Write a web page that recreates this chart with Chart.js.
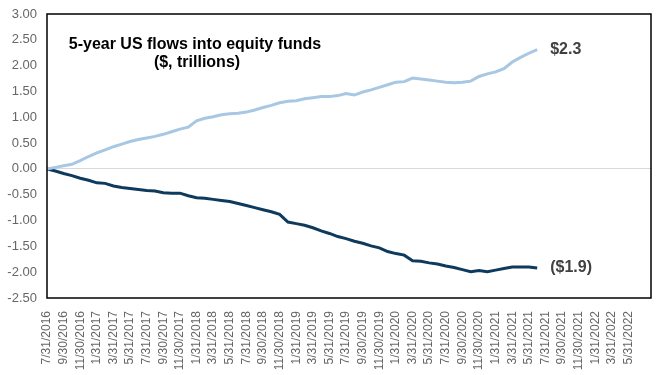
<!DOCTYPE html>
<html>
<head>
<meta charset="utf-8">
<script src="https://cdn.jsdelivr.net/npm/chart.js@4/dist/chart.umd.min.js"></script>
<style>
    body { margin: 0; background: #fff; }
    #wrap { width: 666px; height: 375px; position: relative; }
</style>
</head>
<body>
<div id="wrap"><canvas id="flowChart"></canvas></div>
<script>
// month index 0 = 7/31/2016, one value per month through 6/30/2021
const inflows = [
    0, 0.03, 0.06, 0.09, 0.16, 0.24, 0.31, 0.37, 0.43, 0.48,
    0.53, 0.57, 0.60, 0.63, 0.67, 0.72, 0.77, 0.81, 0.93, 0.98,
    1.01, 1.05, 1.07, 1.08, 1.10, 1.14, 1.19, 1.23, 1.28, 1.31,
    1.32, 1.36, 1.38, 1.40, 1.40, 1.42, 1.46, 1.43, 1.49, 1.53,
    1.58, 1.63, 1.68, 1.69, 1.76, 1.74, 1.72, 1.70, 1.68, 1.67,
    1.68, 1.70, 1.79, 1.84, 1.88, 1.94, 2.07, 2.16, 2.24, 2.31
];
const outflows = [
    0, -0.04, -0.09, -0.13, -0.18, -0.22, -0.27, -0.28, -0.33, -0.36,
    -0.38, -0.40, -0.42, -0.43, -0.46, -0.47, -0.47, -0.52, -0.56, -0.57,
    -0.59, -0.61, -0.63, -0.67, -0.71, -0.75, -0.79, -0.83, -0.88, -1.03,
    -1.06, -1.09, -1.14, -1.20, -1.25, -1.31, -1.35, -1.40, -1.44, -1.49,
    -1.53, -1.60, -1.64, -1.67, -1.78, -1.79, -1.82, -1.84, -1.88, -1.91,
    -1.95, -1.99, -1.97, -1.99, -1.96, -1.93, -1.90, -1.90, -1.90, -1.92
];
// one label every two months on the axis
const tickLabels = [
    "7/31/2016", "9/30/2016", "11/30/2016",
    "1/31/2017", "3/31/2017", "5/31/2017", "7/31/2017", "9/30/2017", "11/30/2017",
    "1/31/2018", "3/31/2018", "5/31/2018", "7/31/2018", "9/30/2018", "11/30/2018",
    "1/31/2019", "3/31/2019", "5/31/2019", "7/31/2019", "9/30/2019", "11/30/2019",
    "1/31/2020", "3/31/2020", "5/31/2020", "7/31/2020", "9/30/2020", "11/30/2020",
    "1/31/2021", "3/31/2021", "5/31/2021", "7/31/2021", "9/30/2021", "11/30/2021",
    "1/31/2022", "3/31/2022", "5/31/2022"
];
const endLabels = ["$2.3", "($1.9)"];
const titleLines = ["5-year US flows into equity funds", "($, trillions)"];

const font = "'Liberation Sans', Arial, sans-serif";

const overlay = {
    id: "overlay",
    afterDraw(chart) {
        const ctx = chart.ctx;
        const a = chart.chartArea;
        ctx.save();
        ctx.strokeStyle = "#000";
        ctx.lineWidth = 1.5;
        ctx.strokeRect(a.left, a.top, a.right - a.left, a.bottom - a.top);

        ctx.fillStyle = "#000";
        ctx.font = "bold 16px " + font;
        ctx.textAlign = "center";
        ctx.textBaseline = "alphabetic";
        ctx.fillText(titleLines[0], a.left + 148, a.top + 35);
        ctx.fillText(titleLines[1], a.left + 150, a.top + 53);

        ctx.fillStyle = "#404040";
        ctx.font = "bold 16px " + font;
        ctx.textAlign = "left";
        ctx.textBaseline = "middle";
        chart.data.datasets.forEach((ds, i) => {
            const pts = chart.getDatasetMeta(i).data;
            const last = pts[pts.length - 1];
            ctx.fillText(endLabels[i], last.x + 13, last.y);
        });
        ctx.restore();
    }
};

new Chart(document.getElementById("flowChart"), {
    type: "line",
    data: {
        datasets: [
            {
                label: "Inflows",
                data: inflows.map((v, i) => ({ x: i, y: v })),
                borderColor: "#a7c7e3",
                borderWidth: 3,
                pointRadius: 0,
                fill: false
            },
            {
                label: "Outflows",
                data: outflows.map((v, i) => ({ x: i, y: v })),
                borderColor: "#0d3a5d",
                borderWidth: 3,
                pointRadius: 0,
                fill: false
            }
        ]
    },
    options: {
        responsive: true,
        maintainAspectRatio: false,
        animation: false,
        layout: { padding: { top: 14, right: 15, left: 0, bottom: 0 } },
        plugins: { legend: { display: false }, tooltip: { enabled: false } },
        scales: {
            x: {
                type: "linear",
                min: 0,
                max: 72.7,
                grid: { display: false },
                border: { display: false },
                ticks: {
                    stepSize: 2,
                    autoSkip: false,
                    includeBounds: false,
                    minRotation: 90,
                    maxRotation: 90,
                    padding: 5,
                    color: "#666666",
                    font: { family: font, size: 12 },
                    callback: v => (v % 2 === 0 && tickLabels[v / 2]) ? tickLabels[v / 2] : ""
                },
                afterFit: s => {
                    s.height = 77;
                    s.paddingLeft = 0;
                    s.paddingRight = 0;
                }
            },
            y: {
                min: -2.5,
                max: 3,
                grid: {
                    drawTicks: false,
                    color: c => c.tick && c.tick.value === 0 ? "#d9d9d9" : "rgba(0,0,0,0)"
                },
                border: { display: false },
                ticks: {
                    stepSize: 0.5,
                    padding: 10,
                    color: "#666666",
                    font: { family: font, size: 13 },
                    callback: v => v.toFixed(2)
                },
                afterFit: s => {
                    s.width = 47;
                    s.paddingTop = 0;
                    s.paddingBottom = 0;
                }
            }
        }
    },
    plugins: [overlay]
});
</script>
</body>
</html>
